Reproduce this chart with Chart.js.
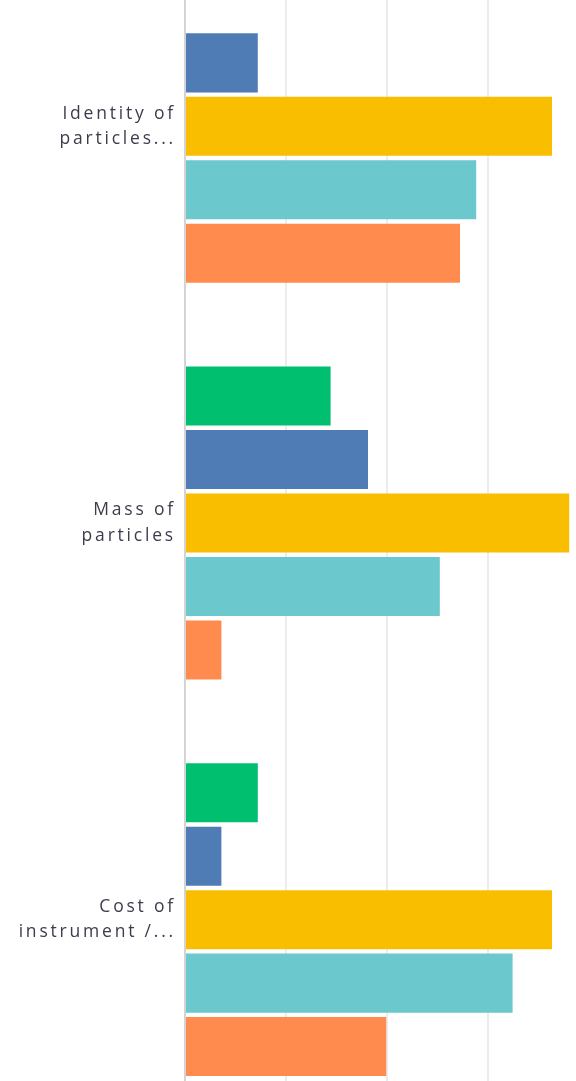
<!DOCTYPE html>
<html>
<head>
<meta charset="utf-8">
<script src="https://cdn.jsdelivr.net/npm/chart.js@4/dist/chart.umd.min.js"></script>
<style>
    html, body { margin: 0; padding: 0; background: #fff; overflow: hidden; }
    body { width: 576px; height: 1081px; position: relative; }
    #wrap { position: absolute; left: 0; top: -72px; width: 640px; height: 1190px; }
</style>
</head>
<body>
<div id="wrap"><canvas id="rank_chart"></canvas></div>
<script>
"use strict";

// Categories (wrapped into two lines each)
const categories = [
    ['Identity of', 'particles...'],
    ['Mass of', 'particles'],
    ['Cost of', 'instrument /...']
];

// Series values, percent of respondents per category
const rank1 = [0, 14.4, 7.2];
const rank2 = [7.2, 18.1, 3.6];
const rank3 = [36.3, 38.0, 36.3];
const rank4 = [28.8, 25.2, 32.4];
const rank5 = [27.2, 3.6, 19.9];

// Tick setup for the value axis
const xMax = 45;
const xStep = 10;

// Colors
const greenColor = '#00bf6f';
const blueColor = '#507cb6';
const yellowColor = '#f9be00';
const tealColor = '#6bc8cd';
const orangeColor = '#ff8b4f';

var ctx = document.getElementById('rank_chart');

// Wide label spacing for the category text
const spacingPlugin = {
    id: 'labelSpacing',
    beforeDraw: function (chart) {
        chart.ctx.letterSpacing = '2.8px';
    }
};

const data = {
    labels: categories,
    datasets: [
        { label: 'Rank 1', data: rank1, backgroundColor: greenColor },
        { label: 'Rank 2', data: rank2, backgroundColor: blueColor },
        { label: 'Rank 3', data: rank3, backgroundColor: yellowColor },
        { label: 'Rank 4', data: rank4, backgroundColor: tealColor },
        { label: 'Rank 5', data: rank5, backgroundColor: orangeColor }
    ]
};

const config = {
    type: 'bar',
    data: data,
    plugins: [spacingPlugin],
    options: {
        indexAxis: 'y',
        responsive: true,
        maintainAspectRatio: false,
        animation: false,
        categoryPercentage: 0.8,
        barPercentage: 0.93,
        layout: { padding: 0 },
        plugins: {
            legend: { display: false },
            title: { display: false },
            tooltip: { enabled: false }
        },
        scales: {
            x: {
                min: 0,
                max: xMax,
                ticks: { display: false, stepSize: xStep },
                grid: {
                    drawTicks: false,
                    lineWidth: 2,
                    color: function (c) {
                        return c.index === 0 ? '#d4d4d4' : '#ececec';
                    }
                },
                border: { display: false }
            },
            y: {
                // fixed label column, no extra room above/below the bands
                afterFit: function (scale) {
                    scale.width = 185;
                    scale.paddingTop = 0;
                    scale.paddingBottom = 0;
                },
                grid: { display: false, drawTicks: false },
                border: { display: true, color: '#d4d4d4', width: 2 },
                ticks: {
                    padding: 9,
                    color: '#3b3d4c',
                    font: { family: 'Open Sans', size: 17.5, weight: '500', lineHeight: 1.45 }
                }
            }
        }
    }
};

var myChart = new Chart(ctx, config);
</script>
</body>
</html>
